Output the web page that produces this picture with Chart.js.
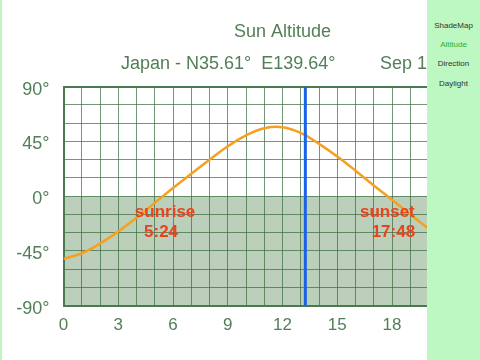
<!DOCTYPE html>
<html>
<head>
<meta charset="utf-8">
<script src="https://cdn.jsdelivr.net/npm/chart.js@4"></script>
<style>
  html, body { margin:0; padding:0; width:480px; height:360px; overflow:hidden; background:#ffffff; font-family:"Liberation Sans", Arial, sans-serif; }
  #wrap { position:absolute; left:0; top:0; width:520px; height:360px; }
  #strip { position:absolute; left:0; top:0; width:2px; height:360px; background:#bdf5c0; }
  #side { position:absolute; left:427px; top:0; width:53px; height:360px; background:#bdf7c1; }
  #side div { position:absolute; left:0; width:53px; text-align:center; font-size:8px; color:#333; line-height:10px; }
</style>
</head>
<body>
<div id="wrap"><canvas id="c" width="520" height="360"></canvas></div>
<div id="strip"></div>
<div id="side">
  <div style="top:21px">ShadeMap</div>
  <div style="top:40px;color:#2fae2f">Altitude</div>
  <div style="top:59px">Direction</div>
  <div style="top:79px">Daylight</div>
</div>
<script>
// ---- data ----
const hours = [0,1,2,3,4,5,6,7,8,9,10,11,12,13,14,15,16,17,18,19,20,21,22,23,24];
const altitude = [-51.5,-47,-39,-29,-17.8,-5.5,6.7,18.5,30,41,50,55.8,56.7,52,43,32.6,21,8.8,-3,-15,-26.5,-37,-45.5,-50.5,-51.8];
const sunriseHour = 5.4, sunriseLabel = ["sunrise","5:24"];
const sunsetHour = 17.8, sunsetLabel = ["sunset","17:48"];
const currentHour = 13.25;
const titleText = "Sun Altitude";
const subtitleText = "Japan - N35.61\u00B0  E139.64\u00B0";
const dateText = "Sep 1";
const yLabelValues = [-90,-45,0,45,90];
const xLabelEvery = 3;

const FONT = '"Liberation Sans", Arial, sans-serif';
const GREEN = '#527f56';

const shadePlugin = {
  id:'shade',
  beforeDraw(chart){
    const {ctx, chartArea:a, scales:{y}} = chart;
    const y0 = y.getPixelForValue(0);
    ctx.save();
    ctx.fillStyle = '#bccfba';
    ctx.fillRect(a.left, y0, a.right-a.left, a.bottom-y0);
    ctx.restore();
  }
};

const textPlugin = {
  id:'texts',
  afterDraw(chart){
    const {ctx, chartArea:a, scales:{x,y}} = chart;
    ctx.save();
    ctx.fillStyle = GREEN;
    ctx.font = '18px ' + FONT;
    ctx.textBaseline = 'alphabetic';
    ctx.textAlign = 'center';
    ctx.fillText(titleText, (a.left+a.right)/2, 37);
    ctx.textAlign = 'left';
    ctx.fillText(subtitleText, 121, 68.5);
    ctx.fillText(dateText, 380, 68.5);
    // sunrise / sunset labels
    const y0 = y.getPixelForValue(0);
    ctx.fillStyle = '#e8431e';
    ctx.font = 'bold 17px ' + FONT;
    ctx.textAlign = 'center';
    const sr = x.getPixelForValue(sunriseHour);
    ctx.fillText(sunriseLabel[0], sr+3, y0+20.5);
    ctx.fillText(sunriseLabel[1], sr-1, y0+40.5);
    const ss = x.getPixelForValue(sunsetHour);
    ctx.fillText(sunsetLabel[0], ss-1, y0+20.5);
    ctx.fillText(sunsetLabel[1], ss+5, y0+40.5);
    ctx.restore();
  }
};

new Chart(document.getElementById('c'), {
  type:'line',
  data:{
    datasets:[
      {
        data: hours.map((h,i)=>({x:h, y:altitude[i]})),
        borderColor:'#f5a01e', borderWidth:2.5, pointRadius:0,
        tension:0.4, fill:false, order:2
      },
      {
        data:[{x:currentHour,y:-90},{x:currentHour,y:90}],
        borderColor:'#1a62e8', borderWidth:3, pointRadius:0, fill:false, order:1
      }
    ]
  },
  options:{
    responsive:false, animation:false, devicePixelRatio:1,
    layout:{padding:{top:86.7, right:15.4, left:0, bottom:0}},
    plugins:{legend:{display:false}, tooltip:{enabled:false}, title:{display:false}},
    scales:{
      x:{
        type:'linear', min:0, max:24,
        afterFit(s){ s.height = 54.3; },
        ticks:{ stepSize:1, autoSkip:false, maxRotation:0, padding:9, color:GREEN,
          font:{family:FONT, size:17},
          callback:(v)=> (v % xLabelEvery === 0 ? String(v) : '') },
        grid:{ color:'rgba(60,110,65,0.72)', lineWidth:(c)=> (c.tick && c.tick.value===24 ? 2 : 1), drawTicks:false },
        border:{ display:true, color:'#4c7a50', width:2 }
      },
      y:{
        type:'linear', min:-90, max:90,
        afterFit(s){ s.width = 63.5; },
        ticks:{ stepSize:15, autoSkip:false, padding:14, labelOffset:3, color:GREEN,
          font:{family:FONT, size:18},
          callback:(v)=> (yLabelValues.includes(v) ? v + '\u00B0' : '') },
        grid:{ color:(c)=> (c.tick && c.tick.value===90 ? '#4c7a50' : 'rgba(60,110,65,0.72)'),
               lineWidth:(c)=> (c.tick && c.tick.value===90 ? 2 : 1), drawTicks:false },
        border:{ display:true, color:'#4c7a50', width:2 }
      }
    }
  },
  plugins:[shadePlugin, textPlugin]
});
</script>
</body>
</html>
